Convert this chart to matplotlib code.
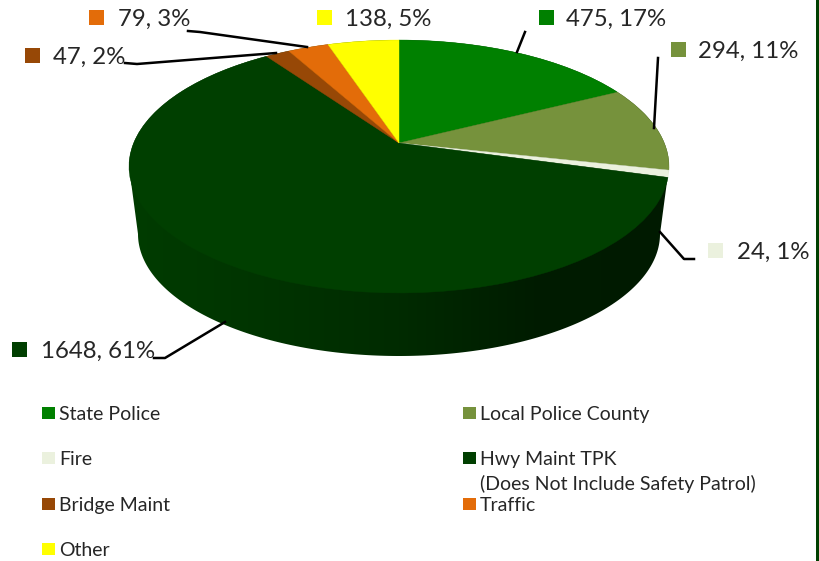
import matplotlib
matplotlib.use('Agg')
import matplotlib.pyplot as plt
import numpy as np
from matplotlib.colors import LinearSegmentedColormap
from matplotlib.patches import PathPatch, Polygon, Rectangle
from matplotlib.path import Path

categories = ['State Police', 'Local Police County', 'Fire', 'Hwy Maint TPK', 'Bridge Maint', 'Traffic', 'Other']
values = [475, 294, 24, 1648, 47, 79, 138]
percents = [17, 11, 1, 61, 2, 3, 5]
colors = ['#008000', '#76923C', '#EBF1DE', '#003F00', '#974806', '#E36C09', '#FFFF00']

plt.rcParams['font.family'] = ['Lato', 'DejaVu Sans']
text_color = '#262626'

# tilted pie: apex sits above the middle of the ellipse because of the perspective
apex_x, apex_y = 399, 143
A, B, k = 265.3, 122.1, 0.1857


def project(uv):
    w = 1 + k * uv[:, 1]
    return np.column_stack([apex_x + A * uv[:, 0] / w, apex_y - B * uv[:, 1] / w])


fig = plt.figure(figsize=(8.19, 5.61), dpi=100)
ax = fig.add_axes([0, 0, 1, 1])

wedges, _ = ax.pie(values, colors=colors, startangle=90, counterclock=False)
flat_paths = []
for wedge in wedges:
    flat_paths.append(wedge.get_patch_transform().transform_path(wedge.get_path()))
    wedge.remove()

# side wall, top ellipse upper half + bottom ellipse lower half
t = np.linspace(0, np.pi, 200)
top_half = np.column_stack([399 - 270 * np.cos(t), 166.5 - 126.5 * np.sin(t)])
bot_half = np.column_stack([399 + 261 * np.cos(t), 234 + 122 * np.sin(t)])
side = Polygon(np.vstack([top_half, bot_half]), closed=True, facecolor='none', edgecolor='none')
ax.add_patch(side)
side_cmap = LinearSegmentedColormap.from_list('side', ['#003C00', '#003400', '#002B00', '#001C00', '#001A00'])
grad = ax.imshow(np.linspace(0, 1, 256).reshape(1, -1), cmap=side_cmap, extent=(129, 669, 356, 40),
                 aspect='auto', zorder=1)
grad.set_clip_path(side)

for path, color in zip(flat_paths, colors):
    ax.add_patch(PathPatch(Path(project(path.vertices), path.codes), facecolor=color, edgecolor=color,
                           linewidth=0.3, zorder=2))

# data labels: marker left edge, marker centre y, text x
label_pos = [(539, 17, 566), (671, 49, 698), (708, 250, 737), (12, 349, 41), (25, 55, 53), (89, 17, 118), (317, 17, 345)]
leaders = [
    [(525, 32), (517, 52)],
    [(658, 58), (654, 128)],
    [(694, 259), (684, 259), (660, 232)],
    [(225, 322), (165, 358), (154, 358)],
    [(125, 63), (137, 64), (276, 53)],
    [(188, 31), (200, 32), (307, 47)],
]
for xs in leaders:
    pts = np.array(xs)
    ax.plot(pts[:, 0], pts[:, 1], color='black', lw=1.8, zorder=3)

for (mx, my, tx), v, p, c in zip(label_pos, values, percents, colors):
    ax.add_patch(Rectangle((mx, my - 7.5), 15, 15, facecolor=c, edgecolor='none', zorder=3))
    ax.text(tx, my + 2, f'{v}, {p}%', fontsize=17.3, color=text_color, va='center', ha='left', zorder=4)

# legend
legend_x = [42, 463, 42, 463, 42, 463, 42]
legend_y = [413, 413, 458, 458, 504, 504, 549]
for lx, ly, name, c in zip(legend_x, legend_y, categories, colors):
    ax.add_patch(Rectangle((lx, ly - 6), 13, 12, facecolor=c, edgecolor='none'))
    ax.text(lx + 17, ly + 1, name, fontsize=14, color=text_color, va='center', ha='left')
ax.text(480, 484, '(Does Not Include Safety Patrol)', fontsize=14, color=text_color, va='center', ha='left')

# dark green slide edge on the right
ax.add_patch(Rectangle((816, 0), 3, 561, facecolor='#003F00', edgecolor='none'))

ax.set_xlim(0, 819)
ax.set_ylim(561, 0)
ax.set_aspect('auto')
ax.axis('off')
fig.savefig('out.png', dpi=100)
